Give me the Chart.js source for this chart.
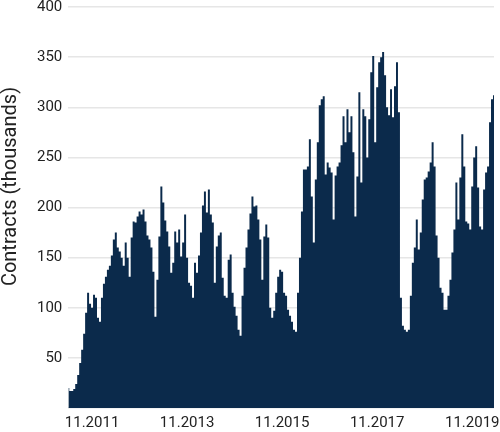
<!DOCTYPE html>
<html>
<head>
<meta charset="utf-8">
<script src="https://cdn.jsdelivr.net/npm/chart.js@4"></script>
<style>
  html, body { margin: 0; padding: 0; background: #fff; }
  #wrap { width: 500px; height: 432px; }
</style>
</head>
<body>
<div id="wrap"><canvas id="contractsChart" width="500" height="432"></canvas></div>
<script>
// semi-monthly observations (1st and 15th), May 2011 - Apr 2020, thousands of contracts
const startYear = 2011;
const startMonth = 5;
const contracts = [
  20, 17, 17, 19, 24, 33, 45, 58, 74, 95, 115, 104, 100, 113, 110, 90, 86, 110, 124, 131,
  138, 142, 152, 168, 175, 160, 156, 150, 142, 165, 150, 131, 170, 186, 185, 191, 196, 193, 198, 186,
  172, 168, 160, 136, 91, 128, 171, 221, 205, 187, 176, 161, 135, 145, 176, 165, 178, 151, 165, 193,
  150, 125, 122, 110, 145, 135, 152, 175, 202, 216, 195, 218, 193, 185, 125, 161, 172, 175, 130, 112,
  110, 148, 153, 115, 101, 92, 78, 72, 112, 140, 160, 178, 194, 211, 201, 202, 188, 168, 128, 171,
  183, 170, 100, 90, 97, 115, 131, 138, 136, 115, 112, 98, 92, 86, 78, 76, 115, 150, 196, 238,
  238, 241, 268, 211, 165, 228, 265, 302, 308, 311, 233, 245, 240, 235, 188, 232, 241, 245, 262, 291,
  265, 298, 275, 291, 255, 191, 231, 315, 225, 298, 291, 250, 288, 335, 351, 265, 320, 345, 350, 355,
  332, 300, 292, 318, 290, 321, 345, 295, 110, 82, 78, 76, 78, 112, 145, 160, 188, 158, 175, 208,
  228, 230, 236, 245, 265, 241, 172, 150, 120, 115, 98, 98, 112, 128, 155, 178, 225, 188, 230, 273,
  241, 186, 184, 178, 221, 250, 261, 220, 181, 178, 218, 235, 241, 285, 308, 312
];
const tickMonths = ["11.2011", "11.2013", "11.2015", "11.2017", "11.2019"];
const yTitle = "Contracts (thousands)";

const labels = contracts.map(function (v, i) {
  const m = startMonth - 1 + Math.floor(i / 2);
  const year = startYear + Math.floor(m / 12);
  const month = (m % 12) + 1;
  return { text: String(month).padStart(2, "0") + "." + year, first: i % 2 === 0 };
});

// axis title sits a bit above the middle of the plot, as in the original
const sideTitle = {
  id: "sideTitle",
  afterDraw: function (chart) {
    const c = chart.ctx;
    const area = chart.chartArea;
    c.save();
    c.translate(11, (area.top + area.bottom) / 2 - 21);
    c.rotate(-Math.PI / 2);
    c.fillStyle = "#222";
    c.font = "20px Roboto";
    c.textAlign = "center";
    c.textBaseline = "middle";
    c.fillText(yTitle, 0, 0);
    c.restore();
  },
};

const ctx = document.getElementById("contractsChart");

new Chart(ctx, {
  type: "line",
  data: {
    labels: labels.map(function (l) { return l.text; }),
    datasets: [
      {
        data: contracts,
        backgroundColor: "#0b2a4b",
        borderColor: "#0b2a4b",
        borderWidth: 0,
        pointRadius: 0,
        stepped: "middle",
        fill: "origin",
      },
    ],
  },
  plugins: [sideTitle],
  options: {
    responsive: false,
    animation: false,
    layout: { padding: { left: 31, right: 0, top: 0, bottom: 0 } },
    plugins: {
      legend: { display: false },
      tooltip: { enabled: false },
    },
    scales: {
      x: {
        grid: { display: false, drawTicks: false },
        border: { display: false },
        afterFit: function (scale) {
          scale.height = 24;
        },
        ticks: {
          autoSkip: false,
          maxRotation: 0,
          padding: 6,
          color: "#222",
          font: { family: "Roboto", size: 15 },
          callback: function (value, index) {
            const l = labels[index];
            return l.first && tickMonths.includes(l.text) ? l.text : "";
          },
        },
      },
      y: {
        min: 0,
        max: 400,
        grid: { color: "#e6e6e6", lineWidth: 1.5, drawTicks: false },
        border: { display: false },
        afterFit: function (scale) {
          scale.paddingTop = 7;
          scale.paddingBottom = 0;
        },
        ticks: {
          stepSize: 50,
          padding: 6,
          color: "#222",
          font: { family: "Roboto", size: 15 },
          callback: function (value) { return value === 0 ? "" : value; },
        },
      },
    },
  },
});
</script>
</body>
</html>
